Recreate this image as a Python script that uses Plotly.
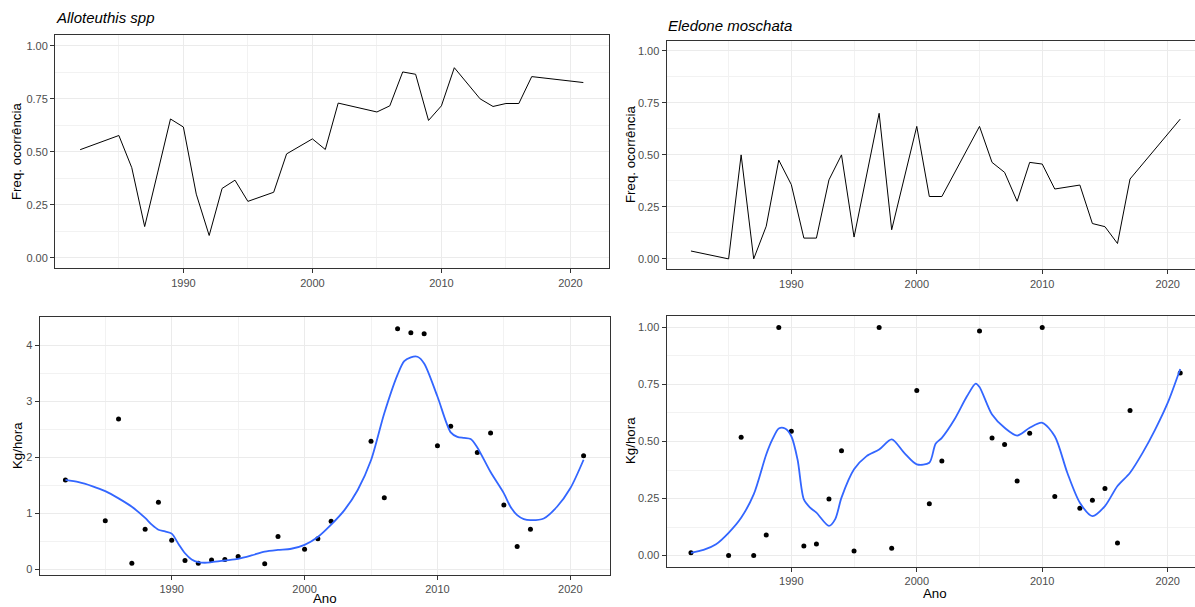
import plotly.graph_objects as go

# Survey years (same for both species)
anos = [1982, 1985, 1986, 1987, 1988, 1989, 1990, 1991, 1992, 1993, 1994, 1995,
        1997, 1998, 2000, 2001, 2002, 2005, 2006, 2007, 2008, 2009, 2010, 2011,
        2013, 2014, 2015, 2016, 2017, 2021]

# Alloteuthis spp
allo_freq = [0.51, 0.577, 0.425, 0.147, 0.40, 0.655, 0.617, 0.30, 0.105, 0.327,
             0.366, 0.266, 0.309, 0.49, 0.561, 0.511, 0.73, 0.688, 0.717, 0.877,
             0.866, 0.648, 0.717, 0.897, 0.75, 0.714, 0.728, 0.728, 0.855, 0.827]
allo_kg = [1.60, 0.87, 2.69, 0.11, 0.72, 1.20, 0.52, 0.16, 0.11, 0.17, 0.18, 0.23,
           0.10, 0.59, 0.36, 0.55, 0.86, 2.29, 1.28, 4.30, 4.23, 4.21, 2.21, 2.56,
           2.09, 2.44, 1.15, 0.41, 0.72, 2.03]

# Eledone moschata
eled_freq = [0.038, 0.0, 0.50, 0.0, 0.157, 0.475, 0.357, 0.10, 0.10, 0.38, 0.50,
             0.105, 0.70, 0.14, 0.637, 0.30, 0.30, 0.637, 0.464, 0.416, 0.277,
             0.464, 0.456, 0.336, 0.355, 0.17, 0.155, 0.074, 0.384, 0.672]
eled_kg = [0.012, 0.0, 0.519, 0.0, 0.09, 1.0, 0.545, 0.042, 0.051, 0.248, 0.459,
           0.02, 1.0, 0.032, 0.724, 0.227, 0.415, 0.984, 0.515, 0.487, 0.327,
           0.536, 1.0, 0.259, 0.208, 0.243, 0.294, 0.055, 0.636, 0.80]

# Smoothed trend curves (loess fits)
allo_suav_x = [1982, 1983, 1984, 1985, 1986, 1987, 1988, 1988.5, 1989, 1989.5, 1990,
               1990.5, 1991, 1991.5, 1992, 1992.5, 1993, 1994, 1995, 1996, 1997,
               1998, 1999, 2000, 2001, 2002, 2003, 2004, 2005, 2006, 2007, 2007.5,
               2008, 2008.5, 2009, 2010, 2011, 2011.5, 2012, 2012.5, 2013, 2014,
               2015, 2015.5, 2016, 2016.5, 2017, 2018, 2019, 2020, 2021]
allo_suav_y = [1.60, 1.56, 1.49, 1.40, 1.27, 1.12, 0.92, 0.80, 0.71, 0.68, 0.64,
               0.46, 0.29, 0.18, 0.13, 0.12, 0.13, 0.16, 0.19, 0.25, 0.32, 0.35,
               0.37, 0.44, 0.58, 0.80, 1.06, 1.42, 1.95, 2.79, 3.48, 3.72, 3.79,
               3.80, 3.68, 3.09, 2.45, 2.37, 2.35, 2.33, 2.18, 1.74, 1.36, 1.12,
               0.97, 0.90, 0.88, 0.91, 1.12, 1.45, 1.96]
eled_suav_x = [1982, 1983, 1984, 1985, 1986, 1987, 1988, 1988.5, 1989, 1989.5, 1990,
               1990.5, 1991, 1991.5, 1992, 1993, 1993.5, 1994, 1995, 1996, 1997,
               1998, 1999, 2000, 2001, 2001.5, 2002, 2003, 2004, 2004.7, 2005, 2006,
               2007, 2008, 2009, 2010, 2011, 2012, 2013, 2014, 2015, 2016, 2017,
               2018, 2019, 2020, 2021]
eled_suav_y = [0.012, 0.025, 0.05, 0.10, 0.166, 0.268, 0.443, 0.51, 0.557, 0.557,
               0.523, 0.42, 0.246, 0.21, 0.188, 0.13, 0.16, 0.254, 0.378, 0.436,
               0.465, 0.509, 0.45, 0.40, 0.407, 0.49, 0.516, 0.596, 0.698, 0.754,
               0.739, 0.618, 0.56, 0.526, 0.56, 0.582, 0.523, 0.363, 0.232, 0.173,
               0.217, 0.305, 0.363, 0.45, 0.552, 0.669, 0.818]

ano_ticks = [1990, 2000, 2010, 2020]
ano_labels = ["1990", "2000", "2010", "2020"]
freq_ticks = [0, 0.25, 0.5, 0.75, 1.0]
freq_labels = ["0.00", "0.25", "0.50", "0.75", "1.00"]
kg_allo_ticks = [0, 1, 2, 3, 4]
kg_allo_labels = ["0", "1", "2", "3", "4"]

W, H = 1195, 607
FONT = "Liberation Sans"
INK = "#333333"
GRID = "#EBEBEB"


def px_x(a, b):
    return [a / W, min(b / W, 1.0)]


def px_y(top, bottom):
    return [1 - bottom / H, 1 - top / H]


def x_axis(domain, rng, anchor, mirror):
    return dict(
        domain=domain, range=rng, anchor=anchor,
        tickmode="array", tickvals=ano_ticks, ticktext=ano_labels,
        ticks="outside", ticklen=4, tickwidth=1, tickcolor=INK,
        tickfont=dict(family=FONT, size=11, color="#4D4D4D"),
        showgrid=True, gridcolor=GRID, gridwidth=1,
        minor=dict(tickvals=[1985, 1995, 2005, 2015], showgrid=True,
                   gridcolor="#F2F2F2", gridwidth=0.6),
        showline=True, linecolor=INK, linewidth=1, mirror=mirror,
        zeroline=False, fixedrange=True,
    )


def y_axis(domain, rng, anchor, ticks, labels, minor_vals, mirror):
    return dict(
        domain=domain, range=rng, anchor=anchor,
        tickmode="array", tickvals=ticks, ticktext=labels,
        ticks="outside", ticklen=4, tickwidth=1, tickcolor=INK,
        tickfont=dict(family=FONT, size=11, color="#4D4D4D"),
        showgrid=True, gridcolor=GRID, gridwidth=1,
        minor=dict(tickvals=minor_vals, showgrid=True,
                   gridcolor="#F2F2F2", gridwidth=0.6),
        showline=True, linecolor=INK, linewidth=1, mirror=mirror,
        zeroline=False, fixedrange=True,
    )


fig = go.Figure()

# Top row: frequency of occurrence
fig.add_trace(go.Scatter(x=anos, y=allo_freq, mode="lines",
                         line=dict(color="black", width=1), xaxis="x", yaxis="y"))
fig.add_trace(go.Scatter(x=anos, y=eled_freq, mode="lines",
                         line=dict(color="black", width=1), xaxis="x2", yaxis="y2"))

# Bottom row: catch rate with smoothed trend
fig.add_trace(go.Scatter(x=anos, y=allo_kg, mode="markers",
                         marker=dict(color="black", size=5), xaxis="x3", yaxis="y3"))
fig.add_trace(go.Scatter(x=allo_suav_x, y=allo_suav_y, mode="lines",
                         line=dict(color="#3366FF", width=1.8, shape="spline", smoothing=0.8),
                         xaxis="x3", yaxis="y3"))
fig.add_trace(go.Scatter(x=anos, y=eled_kg, mode="markers",
                         marker=dict(color="black", size=5), xaxis="x4", yaxis="y4"))
fig.add_trace(go.Scatter(x=eled_suav_x, y=eled_suav_y, mode="lines",
                         line=dict(color="#3366FF", width=1.8, shape="spline", smoothing=0.8),
                         xaxis="x4", yaxis="y4"))

frac_minor = [0.125, 0.375, 0.625, 0.875]
right_end = 1980.05 + (W - 666.5) / 12.545

fig.update_layout(
    width=W, height=H, autosize=False,
    margin=dict(l=0, r=0, t=0, b=0),
    paper_bgcolor="white", plot_bgcolor="white",
    showlegend=False, hovermode=False,
    xaxis=x_axis(px_x(55, 608.5), [1980.05, 2022.95], "y", True),
    yaxis=y_axis(px_y(35.3, 268.3), [-0.05, 1.05], "x", freq_ticks, freq_labels,
                 frac_minor, True),
    xaxis2=x_axis(px_x(666.5, W), [1980.05, right_end], "y2", True),
    yaxis2=y_axis(px_y(40.5, 269.3), [-0.05, 1.05], "x2", freq_ticks, freq_labels,
                  frac_minor, False),
    xaxis3=x_axis(px_x(39.5, 609.5), [1980.05, 2022.95], "y3", True),
    yaxis3=y_axis(px_y(317, 574.5), [-0.09, 4.51], "x3", kg_allo_ticks, kg_allo_labels,
                  [0.5, 1.5, 2.5, 3.5, 4.5], True),
    xaxis4=x_axis(px_x(666.5, W), [1980.05, right_end], "y4", True),
    yaxis4=y_axis(px_y(316, 567), [-0.05, 1.05], "x4", freq_ticks, freq_labels,
                  frac_minor, False),
)


def note(text, x, y, size, angle=0, italic=False, anchor="center"):
    fig.add_annotation(
        text=text, x=x / W, y=1 - y / H, xref="paper", yref="paper",
        xanchor=anchor, yanchor="middle", textangle=angle, showarrow=False,
        font=dict(family=FONT, size=size, color="black",
                  style="italic" if italic else "normal"),
    )


# Panel titles
note("Alloteuthis spp", 54, 17.5, 15, italic=True, anchor="left")
note("Eledone moschata", 665.5, 25.5, 15, italic=True, anchor="left")

# Axis titles
note("Freq. ocorrência", 17, 152, 13.3, angle=-90)
note("Freq. ocorrência", 630, 155, 13.3, angle=-90)
note("Kg/hora", 17, 446, 13.3, angle=-90)
note("Kg/hora", 630, 441, 13.3, angle=-90)
note("Ano", 324.5, 598, 13.3)
note("Ano", 935, 593, 13.3)

fig.write_html("out.html")
